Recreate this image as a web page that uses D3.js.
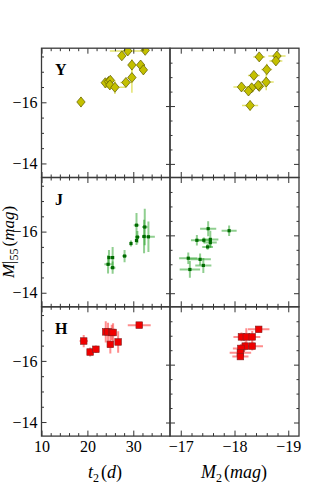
<!DOCTYPE html>
<html>
<head>
<meta charset="utf-8">
<script src="https://cdn.jsdelivr.net/npm/d3@7"></script>
<style>
  body { margin: 0; background: #fff; }
  svg { display: block; }
</style>
</head>
<body>
<div id="chart"></div>
<script>
// bands, top to bottom
const bands = ["Y", "J", "H"];

// Y band: M55 against t2
const yT2 = [18.6, 23.9, 24.6, 25.0, 24.9, 26.0, 28.4, 29.7, 27.5, 29.7, 28.8, 32.6, 31.6, 32.2];
const yM55t = [-16.01, -16.64, -16.68, -16.72, -16.57, -16.49, -16.65, -16.81, -17.52, -17.22, -17.68, -17.70, -17.22, -17.06];
const yT2Err = [0.3, 0.4, 0.5, 0.4, 0.4, 2.4, 1.2, 0.3, 0.3, 0.3, 3.9, 0.4, 0.3, 0.3];
const yM55tErr = [0.17, 0.1, 0.1, 0.1, 0.15, 0.22, 0.12, 0.5, 0.1, 0.2, 0.1, 0.1, 0.1, 0.15];
// Y band: M55 against M2
const yM2 = [-18.46, -18.79, -18.77, -18.60, -18.36, -18.59, -18.46, -18.44, -18.32, -18.26, -18.13, -18.29];
const yM55m = [-17.70, -17.73, -17.56, -17.26, -17.06, -16.83, -16.68, -16.72, -16.63, -16.52, -16.66, -16.02];
const yM2Err = [0.11, 0.16, 0.12, 0.10, 0.11, 0.14, 0.10, 0.10, 0.12, 0.10, 0.15, 0.15];
const yM55mErr = [0.05, 0.08, 0.08, 0.2, 0.08, 0.28, 0.1, 0.1, 0.1, 0.15, 0.08, 0.17];

// J band
const jT2 = [24.7, 25.5, 24.5, 25.5, 28.1, 29.5, 30.7, 30.9, 30.7, 32.5, 32.35, 33.3];
const jM55t = [-15.15, -15.15, -14.93, -14.82, -15.20, -15.61, -15.71, -15.82, -16.21, -16.15, -15.84, -15.83];
const jT2Err = [0.3, 0.3, 0.8, 0.6, 0.5, 0.2, 0.3, 0.5, 0.6, 0.6, 0.4, 1.4];
const jM55tErr = [0.25, 0.35, 0.3, 0.2, 0.2, 0.1, 0.15, 0.2, 0.4, 0.6, 0.55, 0.5];
const jM2 = [-17.51, -17.90, -17.30, -17.43, -17.55, -17.55, -17.50, -17.14, -17.36, -17.42, -17.17];
const jM55m = [-16.23, -16.16, -15.83, -15.83, -15.86, -15.75, -15.60, -15.21, -15.17, -14.96, -14.82];
const jM2Err = [0.15, 0.14, 0.11, 0.15, 0.15, 0.12, 0.10, 0.17, 0.20, 0.15, 0.19];
const jM55mErr = [0.26, 0.18, 0.18, 0.1, 0.3, 0.15, 0.1, 0.2, 0.2, 0.26, 0.29];

// H band
const hT2 = [19.2, 20.6, 21.85, 24.0, 24.5, 25.3, 25.6, 25.0, 26.7, 31.3];
const hM55t = [-16.65, -16.29, -16.38, -16.95, -16.95, -16.93, -16.93, -16.54, -16.62, -17.17];
const hT2Err = [0.9, 0.2, 0.3, 0.5, 0.4, 0.5, 0.4, 0.3, 0.3, 2.5];
const hM55tErr = [0.2, 0.15, 0.12, 0.35, 0.3, 0.25, 0.3, 0.3, 0.35, 0.1];
const hM2 = [-18.45, -18.13, -18.22, -18.33, -18.20, -18.33, -18.12, -18.11, -18.11];
const hM55m = [-17.22, -16.96, -16.96, -16.96, -16.64, -16.64, -16.56, -16.41, -16.28];
const hM2Err = [0.2, 0.15, 0.1, 0.15, 0.12, 0.2, 0.15, 0.2, 0.15];
const hM55mErr = [0.1, 0.15, 0.3, 0.2, 0.15, 0.15, 0.15, 0.1, 0.1];

// axis ticks
const t2Ticks = [10, 20, 30];
const t2Minor = [12, 14, 16, 18, 22, 24, 26, 28, 32, 34, 36];
const m2Ticks = [-17, -18, -19];
const m2Minor = [-17.2, -17.4, -17.6, -17.8, -18.2, -18.4, -18.6, -18.8];
const magTicks = [-16, -14];
const magMinor = [-17.5, -17, -16.5, -15.5, -15, -14.5];

const w = 332, h = 485;
const serif = "'Liberation Serif', 'DejaVu Serif', serif";

const svg = d3.select("#chart").append("svg")
    .attr("width", w)
    .attr("height", h);

const xLeft = d3.scaleLinear().domain([10, 38]).range([41.5, 170]);
const xRight = d3.scaleLinear().domain([-16.8, -19.2]).range([170, 299]);
const rowH = 129.3;
const top0 = 48.2;

const styles = {
    Y: { err: "#dede55", errOp: 0.85, errW: 1.5 },
    J: { err: "#22a022", errOp: 0.5, errW: 2 },
    H: { err: "#ff3030", errOp: 0.55, errW: 2 }
};

const panels = [
    [[yT2, yM55t, yT2Err, yM55tErr], [yM2, yM55m, yM2Err, yM55mErr]],
    [[jT2, jM55t, jT2Err, jM55tErr], [jM2, jM55m, jM2Err, jM55mErr]],
    [[hT2, hM55t, hT2Err, hM55tErr], [hM2, hM55m, hM2Err, hM55mErr]]
];

function styleAxis(g) {
    g.select(".domain").remove();
    g.selectAll("line").attr("stroke", "#333").attr("stroke-width", 1);
    g.selectAll("text")
        .attr("font-family", serif)
        .attr("font-size", 16)
        .attr("fill", "#000");
}

bands.forEach(function (band, r) {
    const top = top0 + r * rowH;
    const bottom = top + rowH;

    for (let c = 0; c < 2; c++) {
        const x = c === 0 ? xLeft : xRight;
        const y = d3.scaleLinear()
            .domain(c === 0 ? [-17.77, -13.54] : [-18.0, -13.53])
            .range([top, bottom]);
        const x0 = x.range()[0], x1 = x.range()[1];
        const [xs, ys, xe, ye] = panels[r][c];
        const data = xs.map(function (v, i) {
            return { x: v, y: ys[i], xe: xe[i], ye: ye[i] };
        });

        const clipId = "clip" + r + c;
        svg.append("clipPath").attr("id", clipId)
            .append("rect")
            .attr("x", x0).attr("y", top)
            .attr("width", x1 - x0).attr("height", rowH);

        const g = svg.append("g").attr("clip-path", "url(#" + clipId + ")");
        const st = styles[band];

        // error bars
        g.selectAll(".xerr").data(data).enter().append("line")
            .attr("x1", d => x(d.x - d.xe)).attr("x2", d => x(d.x + d.xe))
            .attr("y1", d => y(d.y)).attr("y2", d => y(d.y))
            .attr("stroke", st.err).attr("stroke-opacity", st.errOp)
            .attr("stroke-width", st.errW);
        g.selectAll(".yerr").data(data).enter().append("line")
            .attr("x1", d => x(d.x)).attr("x2", d => x(d.x))
            .attr("y1", d => y(d.y - d.ye)).attr("y2", d => y(d.y + d.ye))
            .attr("stroke", st.err).attr("stroke-opacity", st.errOp)
            .attr("stroke-width", st.errW);

        // markers
        if (band === "Y") {
            g.selectAll(".pt").data(data).enter().append("path")
                .attr("d", d => {
                    const cx = x(d.x), cy = y(d.y);
                    return "M" + cx + "," + (cy - 5) + "L" + (cx + 4.2) + "," + cy +
                        "L" + cx + "," + (cy + 5) + "L" + (cx - 4.2) + "," + cy + "Z";
                })
                .attr("fill", "#c4c000")
                .attr("stroke", "#5a5800")
                .attr("stroke-width", 0.7);
        } else if (band === "J") {
            g.selectAll(".pt").data(data).enter().append("rect")
                .attr("x", d => x(d.x) - 1.6).attr("y", d => y(d.y) - 1.6)
                .attr("width", 3.2).attr("height", 3.2)
                .attr("fill", "#006a00");
        } else {
            g.selectAll(".pt").data(data).enter().append("rect")
                .attr("x", d => x(d.x) - 3.3).attr("y", d => y(d.y) - 3.3)
                .attr("width", 6.6).attr("height", 6.6)
                .attr("fill", "#f00000")
                .attr("stroke", "#802020")
                .attr("stroke-width", 0.6);
        }

        // ticks, pointing inwards
        const xt = c === 0 ? t2Ticks : m2Ticks;
        const xm = c === 0 ? t2Minor : m2Minor;
        const showX = r === 2;

        svg.append("g").attr("transform", "translate(0," + bottom + ")")
            .call(d3.axisBottom(x).tickValues(xt).tickSize(-5.5).tickPadding(5)
                .tickFormat(showX ? d3.format("") : ""))
            .call(styleAxis);
        svg.append("g").attr("transform", "translate(0," + bottom + ")")
            .call(d3.axisBottom(x).tickValues(xm).tickSize(-3).tickFormat(""))
            .call(styleAxis);
        svg.append("g").attr("transform", "translate(0," + top + ")")
            .call(d3.axisTop(x).tickValues(xt).tickSize(-5.5).tickFormat(""))
            .call(styleAxis);
        svg.append("g").attr("transform", "translate(0," + top + ")")
            .call(d3.axisTop(x).tickValues(xm).tickSize(-3).tickFormat(""))
            .call(styleAxis);

        svg.append("g").attr("transform", "translate(" + x0 + ",0)")
            .call(d3.axisLeft(y).tickValues(magTicks).tickSize(-5).tickPadding(4)
                .tickFormat(c === 0 ? d3.format("") : ""))
            .call(styleAxis);
        svg.append("g").attr("transform", "translate(" + x0 + ",0)")
            .call(d3.axisLeft(y).tickValues(magMinor).tickSize(-2.5).tickFormat(""))
            .call(styleAxis);
        if (c === 1) {
            svg.append("g").attr("transform", "translate(" + x0 + ",0)")
                .call(d3.axisLeft(y).tickValues(magTicks).tickSize(4).tickFormat(""))
                .call(styleAxis);
            svg.append("g").attr("transform", "translate(" + x1 + ",0)")
                .call(d3.axisRight(y).tickValues(magTicks).tickSize(-5).tickFormat(""))
                .call(styleAxis);
            svg.append("g").attr("transform", "translate(" + x1 + ",0)")
                .call(d3.axisRight(y).tickValues(magMinor).tickSize(-2.5).tickFormat(""))
                .call(styleAxis);
        }

        // frame
        svg.append("rect")
            .attr("x", x0).attr("y", top)
            .attr("width", x1 - x0).attr("height", rowH)
            .attr("fill", "none")
            .attr("stroke", "#3a3a3a")
            .attr("stroke-width", 1.3);
    }

    svg.append("text")
        .attr("x", 55).attr("y", top + 27)
        .attr("font-family", serif)
        .attr("font-weight", "bold")
        .attr("font-size", 16)
        .text(band);
});

// axis titles
const yl = svg.append("text")
    .attr("transform", "translate(14,242) rotate(-90)")
    .attr("text-anchor", "middle")
    .attr("font-family", serif)
    .attr("font-size", 17);
yl.append("tspan").attr("font-style", "italic").text("M");
yl.append("tspan").text("|");
yl.append("tspan").attr("dy", 4).attr("font-size", 12).text("55");
yl.append("tspan").attr("dy", -4).attr("dx", 2).text("(");
yl.append("tspan").attr("font-style", "italic").text("mag");
yl.append("tspan").text(")");

const xl1 = svg.append("text")
    .attr("x", 105).attr("y", 478)
    .attr("text-anchor", "middle")
    .attr("font-family", serif)
    .attr("font-size", 18);
xl1.append("tspan").attr("font-style", "italic").text("t");
xl1.append("tspan").attr("dy", 4).attr("font-size", 12).text("2");
xl1.append("tspan").attr("dy", -4).attr("dx", 2).text("(");
xl1.append("tspan").attr("font-style", "italic").text("d");
xl1.append("tspan").text(")");

const xl2 = svg.append("text")
    .attr("x", 234).attr("y", 478)
    .attr("text-anchor", "middle")
    .attr("font-family", serif)
    .attr("font-size", 18);
xl2.append("tspan").attr("font-style", "italic").text("M");
xl2.append("tspan").attr("dy", 4).attr("font-size", 12).text("2");
xl2.append("tspan").attr("dy", -4).attr("dx", 2).text("(");
xl2.append("tspan").attr("font-style", "italic").text("mag");
xl2.append("tspan").text(")");
</script>
</body>
</html>
